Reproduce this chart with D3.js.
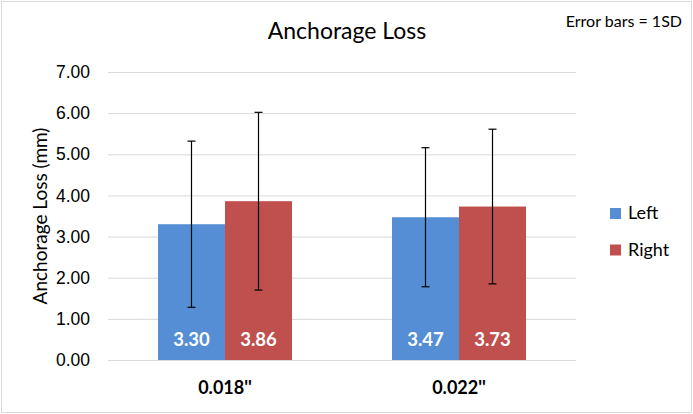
<!DOCTYPE html>
<html>
<head>
<meta charset="utf-8">
<script src="https://cdn.jsdelivr.net/npm/d3@7"></script>
<style>
  body { margin: 0; background: #fff; }
  svg { display: block; font-family: Lato, "Open Sans", sans-serif; }
</style>
</head>
<body>
<div id="viz"></div>
<script>
// values
const categories = ['0.018\'\'', '0.022\'\''];
const seriesNames = ['Left', 'Right'];
const leftMeans = [3.30, 3.47];
const rightMeans = [3.86, 3.73];
const leftSD = [2.02, 1.69];
const rightSD = [2.16, 1.88];
const yTicks = [0, 1, 2, 3, 4, 5, 6, 7];

const colors = { Left: '#558ed5', Right: '#c0504d' };
const f = d3.format('.2f');

let width = 693, height = 414;
let margin = { top: 72, right: 117, bottom: 54, left: 108 };

let svg = d3.select('#viz').append('svg')
  .attr('width', width)
  .attr('height', height);

// chart border
svg.append('rect')
  .attr('x', 1.5).attr('y', 1.5)
  .attr('width', width - 3).attr('height', height - 3)
  .attr('fill', '#fff')
  .attr('stroke', '#d9d9d9');

let x0 = d3.scaleBand()
  .domain(categories)
  .range([margin.left, width - margin.right]);

let x1 = d3.scaleBand()
  .domain(seriesNames)
  .range([0, x0.bandwidth()])
  .paddingOuter(0.746);

let y = d3.scaleLinear()
  .domain([0, 7])
  .range([height - margin.bottom, margin.top]);

// gridlines + tick labels
let yAxis = d3.axisLeft(y)
  .tickValues(yTicks)
  .tickSize(-(width - margin.left - margin.right))
  .tickPadding(18)
  .tickFormat(f);

let yg = svg.append('g')
  .attr('transform', `translate(${margin.left},0)`)
  .call(yAxis);
yg.select('.domain').remove();
yg.selectAll('.tick line').attr('stroke', '#d9d9d9');
yg.selectAll('.tick text')
  .style('font-size', '17.5px')
  .attr('fill', '#000');

svg.append('text')
  .text('Anchorage Loss (mm)')
  .attr('transform', `translate(47,${(y(0) + y(7)) / 2}) rotate(-90)`)
  .attr('text-anchor', 'middle')
  .style('font-size', '19px');

// rows: one per bar
let rows = [];
categories.forEach((c, i) => {
  rows.push({ cat: c, s: 'Left', v: leftMeans[i], sd: leftSD[i] });
  rows.push({ cat: c, s: 'Right', v: rightMeans[i], sd: rightSD[i] });
});

let bars = svg.append('g').selectAll('g')
  .data(rows)
  .join('g')
  .attr('transform', d => `translate(${x0(d.cat) + x1(d.s)},0)`);

bars.append('rect')
  .attr('x', 0)
  .attr('y', d => y(d.v))
  .attr('width', x1.bandwidth())
  .attr('height', d => y(0) - y(d.v))
  .attr('fill', d => colors[d.s]);

bars.append('text')
  .text(d => f(d.v))
  .attr('x', x1.bandwidth() / 2)
  .attr('y', y(0) - 14)
  .attr('text-anchor', 'middle')
  .attr('fill', '#fff')
  .style('font-size', '18.5px')
  .style('font-weight', 'bold');

// error bars
let cx = x1.bandwidth() / 2;
bars.append('line')
  .attr('x1', cx).attr('x2', cx)
  .attr('y1', d => y(d.v + d.sd))
  .attr('y2', d => y(d.v - d.sd))
  .attr('stroke', '#000').attr('stroke-width', 1.2);
bars.append('line')
  .attr('x1', cx - 4).attr('x2', cx + 4)
  .attr('y1', d => y(d.v + d.sd)).attr('y2', d => y(d.v + d.sd))
  .attr('stroke', '#000').attr('stroke-width', 1.2);
bars.append('line')
  .attr('x1', cx - 4).attr('x2', cx + 4)
  .attr('y1', d => y(d.v - d.sd)).attr('y2', d => y(d.v - d.sd))
  .attr('stroke', '#000').attr('stroke-width', 1.2);

// category labels
svg.append('g').selectAll('text')
  .data(categories)
  .join('text')
  .text(d => d)
  .attr('x', d => x0(d) + x0.bandwidth() / 2)
  .attr('y', 394)
  .attr('text-anchor', 'middle')
  .style('font-size', '18px')
  .style('font-weight', 'bold');

// title + note
svg.append('text')
  .text('Anchorage Loss')
  .attr('x', 347)
  .attr('y', 39)
  .attr('text-anchor', 'middle')
  .style('font-size', '23px');

svg.append('text')
  .text('Error bars = 1SD')
  .attr('x', 682)
  .attr('y', 27)
  .attr('text-anchor', 'end')
  .style('font-size', '16px');

// legend
let legend = svg.append('g').selectAll('g')
  .data(seriesNames)
  .join('g')
  .attr('transform', (d, i) => `translate(610,${208 + i * 36.5})`);

legend.append('rect')
  .attr('width', 11).attr('height', 11)
  .attr('fill', d => colors[d]);

legend.append('text')
  .text(d => d)
  .attr('x', 18)
  .attr('y', 11)
  .style('font-size', '18px');
</script>
</body>
</html>
